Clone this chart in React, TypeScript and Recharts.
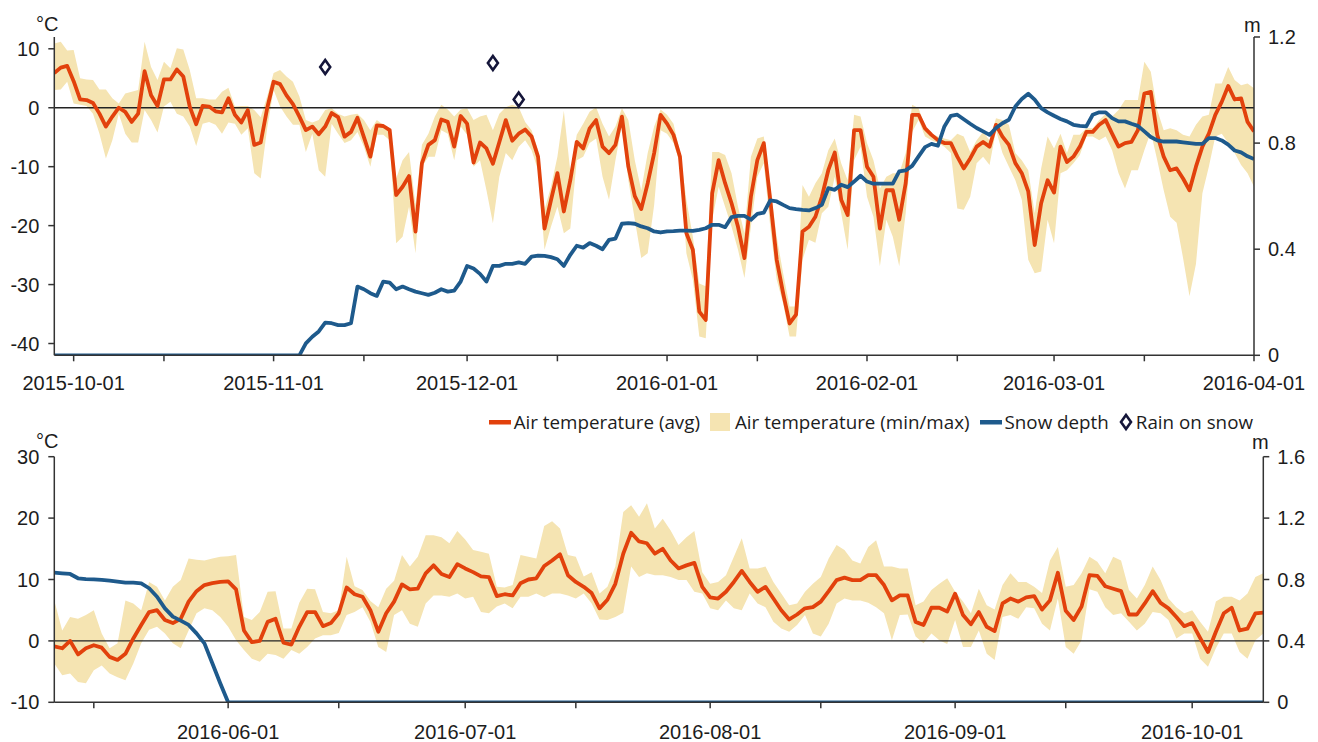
import React from 'react';
import { ComposedChart, Line, Area, XAxis, YAxis, ReferenceLine, Scatter } from 'recharts';

// ---------- data ----------
const DAY = 86400000;

const TOP_START = '2015-09-28';
const TOP_END = '2016-04-01';
const TOP_TICK_DATES = ['2015-10-01', '2015-10-15', '2015-11-01', '2015-11-15', '2015-12-01', '2015-12-15', '2016-01-01', '2016-01-15', '2016-02-01', '2016-02-15', '2016-03-01', '2016-03-15', '2016-04-01'];
const TOP_TEMP_TICKS = [-40, -30, -20, -10, 0, 10];
const TOP_SNOW_TICKS = [0, 0.4, 0.8, 1.2];

const TOP_AVG = [
  5.9, 6.8, 7.1, 4.5, 1.4, 1.3, 0.8, -1.0, -3.2, -1.5,
  0, -0.7, -2.4, -1.0, 6.2, 2.1, 0.3, 4.8, 4.8, 6.5,
  5.3, 0.2, -2.8, 0.3, 0.2, -0.6, -0.8, 1.6, -1.2, -2.5,
  -0.4, -6.3, -5.9, -0.1, 4.4, 4.0, 2.1, 0.6, -1.5, -3.8,
  -3.2, -4.5, -3.2, -0.9, -1.6, -4.9, -4.1, -1.7, -5.0, -8.3,
  -3.0, -3.1, -3.8, -14.8, -13.4, -11.6, -21.0, -9.4, -6.3, -5.5,
  -2.0, -2.4, -6.6, -1.4, -2.7, -9.3, -5.9, -6.9, -9.5, -5.8,
  -2.1, -5.6, -4.4, -3.7, -4.9, -8.3, -20.5, -15.7, -11.1, -17.6,
  -12.3, -5.8, -6.9, -3.5, -2.1, -6.6, -7.7, -6.3, -1.5, -10.0,
  -15.0, -17.2, -12.8, -7.7, -1.2, -2.7, -4.6, -8.3, -21.3, -24.1,
  -34.6, -36.0, -14.5, -8.9, -12.8, -16.2, -20.2, -25.5, -15.1, -8.9,
  -6.0, -15.6, -25.8, -31.5, -36.6, -35.1, -21.0, -20.2, -18.5, -15.1,
  -10.6, -7.6, -15.6, -18.2, -3.8, -3.8, -10.0, -11.7, -20.5, -14.0,
  -14.0, -19.0, -12.8, -1.2, -1.2, -3.5, -4.6, -5.5, -6.0, -6.0,
  -8.3, -10.3, -8.6, -6.6, -5.8, -6.6, -2.9, -4.9, -6.3, -9.4,
  -11.1, -14.2, -23.3, -16.2, -12.3, -14.4, -6.6, -9.2, -8.3, -6.6,
  -4.1, -4.1, -2.9, -2.1, -4.4, -6.6, -6.0, -5.8, -3.8, 2.4,
  2.7, -4.6, -8.3, -10.6, -10.3, -12.0, -14.0, -10.0, -6.6, -4.4,
  -1.2, 1.0, 3.7, 1.4, 1.6, -2.4, -4.0,
];
const TOP_MAX = [
  10.9, 11.2, 9.7, 9.8, 5.0, 4.8, 4.7, 3.1, 3.1, 1.6,
  0.7, 2.4, 2.7, 3.0, 11.2, 6.9, 4.7, 7.8, 6.7, 10.1,
  9.9, 6.4, 1.6, 1.6, 1.4, 1.4, 2.7, 3.4, 0.2, 0.3,
  0.3, -0.4, -1.6, 1.9, 5.9, 6.4, 5.3, 4.4, 1.9, -2.1,
  -2.5, -2.1, -0.4, -0.1, -1.0, -1.5, -1.2, -1.0, -2.1, -3.8,
  -2.1, -2.9, -3.5, -12.0, -8.9, -7.5, -16.5, -6.3, -4.4, -1.5,
  0.5, -0.3, -1.5, -0.3, -0.1, -2.1, -1.5, -1.2, -3.8, -1.0,
  0.1, 0.5, 0.1, -2.4, -3.8, -7.2, -17.3, -13.4, -8.3, -0.5,
  -10.8, -4.6, -2.7, -0.7, 0.1, -2.7, -4.9, -3.2, -0.1, -2.1,
  -8.9, -14.0, -7.7, -3.2, -0.3, -1.2, -2.7, -7.5, -15.6, -21.9,
  -29.8, -30.3, -7.5, -7.5, -8.0, -11.1, -16.8, -21.3, -8.3, -5.2,
  -4.9, -13.4, -21.9, -28.1, -33.7, -33.7, -13.1, -15.1, -12.8, -11.1,
  -7.2, -5.2, -9.4, -12.3, -1.2, -1.5, -6.0, -8.9, -13.7, -11.7,
  -11.1, -11.1, -7.7, 0.5, -0.1, -3.2, -4.4, -4.9, -5.2, -5.5,
  -4.4, -4.9, -7.5, -5.5, -4.1, -5.5, -1.8, -2.1, -2.9, -7.7,
  -8.9, -10.6, -17.9, -10.3, -4.9, -6.9, -4.4, -7.7, -4.6, -4.6,
  -3.5, -3.5, -2.1, -1.0, -1.5, -0.4, 1.3, 1.3, 1.3, 7.8,
  6.1, -0.4, -3.8, -3.5, -3.8, -4.6, -4.9, -2.9, -1.5, -1.2,
  4.1, 4.1, 6.9, 4.7, 3.8, 4.1, 3.3,
];
const TOP_MIN = [
  3.0, 3.1, 4.4, 0.7, 0.5, 0.3, -1.0, -4.4, -8.6, -5.5,
  -1.0, -4.4, -5.9, -5.9, -0.4, -2.1, -4.2, 0.2, 1.0, -1.0,
  -1.5, -3.2, -6.5, -2.7, -2.4, -2.9, -4.4, -2.5, -2.7, -4.6,
  -3.5, -11.1, -12.0, -3.5, 3.0, 0.2, -1.5, -2.9, -2.9, -7.5,
  -4.4, -10.6, -11.7, -2.7, -4.4, -6.0, -5.5, -4.1, -6.6, -10.0,
  -4.6, -4.6, -5.5, -23.0, -21.9, -16.8, -24.7, -10.0, -8.3, -8.3,
  -3.8, -4.4, -8.9, -3.2, -4.6, -10.0, -8.9, -14.0, -19.6, -11.7,
  -7.7, -8.9, -6.6, -5.5, -7.2, -10.6, -24.1, -20.2, -16.8, -21.3,
  -20.5, -8.9, -8.3, -6.0, -5.2, -11.7, -15.6, -8.9, -2.9, -12.3,
  -19.0, -25.5, -24.7, -16.5, -3.8, -4.4, -6.0, -9.4, -24.7, -29.2,
  -38.8, -39.1, -19.0, -13.4, -16.8, -20.2, -24.1, -28.9, -20.2, -11.7,
  -9.4, -20.2, -29.2, -33.2, -38.8, -38.8, -25.8, -22.4, -22.9, -17.9,
  -16.8, -11.7, -17.9, -24.1, -8.9, -6.6, -15.1, -18.5, -26.9, -19.0,
  -21.9, -26.9, -17.9, -4.1, -2.1, -4.9, -5.5, -6.0, -6.6, -7.7,
  -17.1, -17.3, -15.1, -9.4, -8.3, -9.7, -3.8, -7.7, -10.0, -12.3,
  -15.6, -25.8, -28.1, -27.8, -19.0, -23.0, -11.1, -10.6, -9.4, -8.0,
  -4.9, -4.9, -5.5, -4.9, -7.2, -11.1, -13.7, -10.6, -10.6, -7.2,
  -4.1, -8.9, -14.0, -18.5, -19.5, -25.5, -32.0, -26.5, -14.5, -10.0,
  -4.9, -4.4, -6.0, -7.7, -9.7, -11.1, -13.4,
];
const TOP_SNOW = [
  0, 0, 0, 0, 0, 0, 0, 0, 0, 0,
  0, 0, 0, 0, 0, 0, 0, 0, 0, 0,
  0, 0, 0, 0, 0, 0, 0, 0, 0, 0,
  0, 0, 0, 0, 0, 0, 0, 0, 0, 0.045,
  0.07, 0.09, 0.123, 0.121, 0.114, 0.114, 0.121, 0.259, 0.249, 0.234,
  0.224, 0.278, 0.274, 0.249, 0.259, 0.249, 0.240, 0.234, 0.228, 0.236,
  0.249, 0.240, 0.244, 0.278, 0.337, 0.327, 0.307, 0.278, 0.337, 0.337,
  0.345, 0.345, 0.350, 0.345, 0.372, 0.376, 0.375, 0.370, 0.362, 0.337,
  0.379, 0.413, 0.406, 0.423, 0.413, 0.400, 0.435, 0.440, 0.496, 0.498,
  0.496, 0.486, 0.479, 0.467, 0.463, 0.467, 0.468, 0.470, 0.470, 0.469,
  0.473, 0.479, 0.492, 0.492, 0.483, 0.521, 0.526, 0.526, 0.511, 0.533,
  0.538, 0.584, 0.580, 0.567, 0.555, 0.551, 0.548, 0.546, 0.555, 0.567,
  0.630, 0.624, 0.643, 0.634, 0.655, 0.677, 0.655, 0.647, 0.647, 0.647,
  0.647, 0.693, 0.697, 0.714, 0.750, 0.785, 0.797, 0.790, 0.863, 0.903,
  0.907, 0.890, 0.873, 0.857, 0.844, 0.831, 0.857, 0.875, 0.888, 0.938,
  0.966, 0.986, 0.964, 0.932, 0.916, 0.903, 0.891, 0.882, 0.869, 0.865,
  0.863, 0.907, 0.916, 0.916, 0.894, 0.882, 0.882, 0.873, 0.865, 0.844,
  0.823, 0.810, 0.806, 0.806, 0.806, 0.803, 0.800, 0.797, 0.797, 0.819,
  0.819, 0.810, 0.794, 0.772, 0.765, 0.750, 0.740,
];
const RAIN_DATES = ['2015-11-09', '2015-12-05', '2015-12-09'];
const RAIN_VALUES = [6.9, 7.6, 1.4];

const BOT_START = '2016-05-10';
const BOT_END = '2016-10-10';
const BOT_TICK_DATES = ['2016-05-15', '2016-06-01', '2016-06-15', '2016-07-01', '2016-07-15', '2016-08-01', '2016-08-15', '2016-09-01', '2016-09-15', '2016-10-01'];
const BOT_TEMP_TICKS = [-10, 0, 10, 20, 30];
const BOT_SNOW_TICKS = [0, 0.4, 0.8, 1.2, 1.6];

const BOT_AVG = [
  -0.9, -1.2, 0, -2.2, -1.2, -0.7, -1.1, -2.6, -3.1, -2.1,
  0.4, 2.6, 4.7, 5.0, 3.4, 2.9, 3.6, 6.4, 8.1, 9.1,
  9.4, 9.6, 9.7, 8.4, 1.7, -0.2, 0, 3.1, 3.6, -0.3,
  -0.6, 2.3, 4.7, 4.7, 2.4, 2.9, 4.5, 8.7, 7.6, 7.2,
  5.0, 1.5, 4.5, 6.4, 9.2, 8.4, 8.5, 11.0, 12.3, 10.9,
  10.4, 12.5, 11.8, 11.2, 10.5, 10.4, 7.3, 7.6, 7.4, 9.4,
  10.0, 10.2, 12.2, 13.1, 14.1, 10.7, 9.6, 8.8, 7.8, 5.3,
  6.7, 9.3, 14.2, 17.6, 16.2, 15.9, 14.2, 15.0, 13.1, 11.8,
  12.3, 12.7, 8.8, 7.1, 6.9, 8.0, 9.6, 11.4, 9.6, 8.0,
  8.8, 6.9, 5.0, 3.5, 4.3, 5.3, 5.5, 6.4, 8.1, 9.9,
  10.3, 9.9, 9.9, 10.7, 10.7, 9.1, 6.6, 7.4, 7.4, 3.1,
  2.6, 5.4, 5.4, 4.8, 7.7, 4.2, 2.7, 4.7, 2.3, 1.6,
  6.1, 6.9, 6.4, 7.1, 7.3, 5.1, 6.6, 11.1, 4.9, 3.4,
  5.6, 10.7, 10.6, 8.9, 8.5, 8.1, 4.3, 4.3, 6.1, 8.1,
  6.2, 5.3, 3.9, 2.4, 2.9, 0.5, -1.8, 1.5, 4.5, 5.4,
  1.7, 2.0, 4.5, 4.6,
];
const BOT_MAX = [
  6.6, 1.7, 3.9, 3.6, 4.2, 5.0, 1.2, -1.2, -0.4, 6.6,
  6.1, 5.0, 9.6, 8.8, 6.6, 8.8, 9.9, 13.4, 13.2, 13.1,
  13.4, 13.7, 13.8, 14.0, 3.9, 3.4, 4.7, 8.0, 8.1, 2.0,
  2.0, 6.2, 8.5, 8.4, 4.7, 4.5, 5.0, 13.7, 8.9, 8.3,
  6.5, 5.5, 8.5, 9.8, 14.0, 12.1, 13.7, 17.2, 17.2, 16.9,
  15.9, 17.9, 16.5, 14.8, 14.5, 14.2, 8.8, 8.7, 9.1, 14.0,
  13.7, 13.4, 18.7, 19.5, 18.3, 14.0, 13.7, 10.5, 11.2, 7.7,
  8.8, 12.1, 21.0, 22.1, 20.2, 22.4, 18.3, 19.9, 18.0, 15.6,
  16.9, 17.9, 11.2, 9.3, 9.6, 10.7, 13.7, 16.7, 11.8, 11.8,
  12.1, 9.6, 7.7, 5.8, 6.1, 8.0, 9.3, 10.4, 13.4, 15.6,
  14.8, 13.1, 12.6, 15.3, 16.4, 12.1, 12.1, 11.8, 11.8, 5.8,
  6.4, 8.3, 9.3, 10.2, 8.0, 6.4, 4.5, 8.5, 5.8, 5.1,
  9.1, 11.0, 9.6, 9.6, 8.8, 7.8, 13.1, 15.3, 8.8, 9.1,
  11.0, 13.7, 12.9, 11.0, 13.7, 13.1, 8.3, 6.9, 9.1, 12.1,
  9.9, 6.9, 5.5, 4.5, 5.0, 3.1, 1.5, 6.4, 7.2, 7.2,
  6.6, 7.7, 10.4, 11.0,
];
const BOT_MIN = [
  -3.7, -5.6, -5.3, -6.7, -6.9, -4.8, -4.0, -5.3, -5.9, -6.4,
  -3.7, -0.4, 1.8, 2.3, 1.2, -0.4, -1.2, 1.7, 4.5, 5.3,
  5.0, 3.9, 2.3, 0.1, -1.5, -2.9, -3.4, -2.1, -2.3, -2.9,
  -1.5, -2.1, -1.0, 0.4, 0.9, 0.9, 1.3, 4.2, 4.7, 5.5,
  3.1, -1.0, -1.8, 4.2, 5.0, 2.8, 2.3, 6.1, 7.4, 7.4,
  7.2, 7.7, 6.9, 7.2, 4.7, 4.5, 5.6, 6.1, 5.3, 7.2,
  7.2, 7.7, 7.1, 7.7, 7.7, 7.4, 6.9, 7.7, 6.1, 3.5,
  3.4, 3.9, 4.6, 12.1, 10.4, 11.0, 10.7, 10.7, 10.4, 9.9,
  9.9, 8.0, 7.7, 5.3, 5.0, 6.6, 5.3, 5.0, 7.7, 6.1,
  5.5, 3.1, 2.0, 1.5, 2.6, 4.2, 1.2, 0.7, 2.8, 6.1,
  6.9, 6.6, 6.6, 6.2, 5.5, 4.5, 0.1, 4.2, 4.3, 0.7,
  -0.4, 1.2, 0.1, -0.5, 3.4, -1.0, -1.0, 1.7, -2.1, -3.1,
  3.9, 4.2, 3.6, 5.5, 5.3, 2.8, 1.7, 6.9, -1.0, -2.1,
  0.1, 8.4, 8.0, 5.5, 4.2, 4.5, 3.1, 1.7, 2.8, 4.7,
  4.5, 3.4, 0.4, 1.2, 1.2, -2.9, -4.2, -1.2, 1.2, 1.2,
  -1.8, -2.9, 0.1, 1.2,
];
const BOT_SNOW = [
  0.845, 0.840, 0.836, 0.808, 0.803, 0.801, 0.797, 0.793, 0.786, 0.780,
  0.780, 0.775, 0.743, 0.688, 0.612, 0.558, 0.532, 0.504, 0.449, 0.384,
  0.254, 0.124, 0, 0, 0, 0, 0, 0, 0, 0,
  0, 0, 0, 0, 0, 0, 0, 0, 0, 0,
  0, 0, 0, 0, 0, 0, 0, 0, 0, 0,
  0, 0, 0, 0, 0, 0, 0, 0, 0, 0,
  0, 0, 0, 0, 0, 0, 0, 0, 0, 0,
  0, 0, 0, 0, 0, 0, 0, 0, 0, 0,
  0, 0, 0, 0, 0, 0, 0, 0, 0, 0,
  0, 0, 0, 0, 0, 0, 0, 0, 0, 0,
  0, 0, 0, 0, 0, 0, 0, 0, 0, 0,
  0, 0, 0, 0, 0, 0, 0, 0, 0, 0,
  0, 0, 0, 0, 0, 0, 0, 0, 0, 0,
  0, 0, 0, 0, 0, 0, 0, 0, 0, 0,
  0, 0, 0, 0, 0, 0, 0, 0, 0, 0,
  0, 0, 0, 0,
];

const LEGEND_ITEMS = [
  { label: 'Air temperature (avg)', kind: 'line' },
  { label: 'Air temperature (min/max)', kind: 'band' },
  { label: 'Snow depth', kind: 'snow' },
  { label: 'Rain on snow', kind: 'diamond' },
];

// ---------- styling ----------
const RED = '#E2410C';
const BAND = '#F5E4B2';
const BLUE = '#1E5A8C';
const NAVY = '#15163A';
const AXIS = '#333333';
const TEXT = '#1c1c1c';
const TICK_FONT = '"Liberation Sans", Arial, Helvetica, sans-serif';
const LEGEND_FONT = '"Open Sans", "Noto Sans", sans-serif';

const ms = (s: string) => Date.parse(s + 'T00:00:00Z');
const fmtDate = (t: number) => {
  const s = new Date(t).toISOString().slice(0, 10);
  return s.endsWith('-01') ? s : '';
};

const build = (start: string, avg: number[], mn: number[], mx: number[], snow: number[]) =>
  avg.map((v, i) => ({ t: ms(start) + i * DAY, avg: v, range: [mn[i], mx[i]], snow: snow[i] }));

const topData = build(TOP_START, TOP_AVG, TOP_MIN, TOP_MAX, TOP_SNOW);
const botData = build(BOT_START, BOT_AVG, BOT_MIN, BOT_MAX, BOT_SNOW);
const rainData = RAIN_DATES.map((d, i) => ({ t: ms(d), v: RAIN_VALUES[i] }));

const Diamond = (p: any) => {
  const { cx, cy } = p;
  if (cx == null || cy == null) return null;
  return (
    <path
      d={`M${cx},${cy - 7} L${cx + 5},${cy} L${cx},${cy + 7} L${cx - 5},${cy} Z`}
      fill="#ffffff"
      stroke={NAVY}
      strokeWidth={2.6}
      strokeLinejoin="miter"
    />
  );
};

const tickStyle = { fill: TEXT, fontSize: 20, fontFamily: TICK_FONT };
const axisLine = { stroke: AXIS, strokeWidth: 1.5 };

type PanelProps = {
  data: any[];
  width: number;
  height: number;
  top: number;
  plotTop: number;
  plotBottom: number;
  plotLeft: number;
  plotRight: number;
  xDomain: [number, number];
  xTicks: number[];
  tempDomain: [number, number];
  tempTicks: number[];
  snowDomain: [number, number];
  snowTicks: number[];
  xTickMargin: number;
  rain?: { t: number; v: number }[];
};

const Panel = (p: PanelProps) => {
  const margin = { top: p.plotTop, right: 0, left: 0, bottom: 0 };
  const xHeight = p.height - p.plotBottom;
  return (
    <div style={{ position: 'absolute', left: 0, top: p.top, width: p.width, height: p.height }}>
      <ComposedChart width={p.width} height={p.height} data={p.data} margin={margin}>
        <XAxis
          dataKey="t"
          type="number"
          domain={p.xDomain}
          ticks={p.xTicks}
          interval={0}
          allowDataOverflow
          tickFormatter={fmtDate}
          height={xHeight}
          tickSize={6}
          tickMargin={p.xTickMargin}
          tick={tickStyle}
          axisLine={axisLine}
          tickLine={axisLine}
        />
        <YAxis
          yAxisId="l"
          domain={p.tempDomain}
          ticks={p.tempTicks}
          interval={0}
          allowDataOverflow
          width={p.plotLeft}
          tickSize={6}
          tickMargin={9}
          tick={tickStyle}
          axisLine={axisLine}
          tickLine={axisLine}
        />
        <YAxis
          yAxisId="r"
          orientation="right"
          domain={p.snowDomain}
          ticks={p.snowTicks}
          interval={0}
          allowDataOverflow
          width={p.width - p.plotRight}
          tickSize={6}
          tickMargin={8}
          tick={tickStyle}
          tickFormatter={(v: number) => String(v)}
          axisLine={axisLine}
          tickLine={axisLine}
        />
        <Area
          yAxisId="l"
          dataKey="range"
          type="linear"
          stroke="none"
          fill={BAND}
          fillOpacity={1}
          isAnimationActive={false}
          activeDot={false}
        />
        <ReferenceLine yAxisId="l" y={0} stroke="#222222" strokeWidth={1.4} />
        <Line
          yAxisId="l"
          dataKey="avg"
          type="linear"
          stroke={RED}
          strokeWidth={3.8}
          dot={false}
          activeDot={false}
          strokeLinejoin="round"
          isAnimationActive={false}
        />
        <Line
          yAxisId="r"
          dataKey="snow"
          type="linear"
          stroke={BLUE}
          strokeWidth={3.8}
          dot={false}
          activeDot={false}
          strokeLinejoin="round"
          isAnimationActive={false}
        />
        {p.rain ? (
          <Scatter yAxisId="l" data={p.rain} dataKey="v" shape={Diamond} isAnimationActive={false} />
        ) : null}
      </ComposedChart>
    </div>
  );
};

const unitStyle: React.CSSProperties = {
  position: 'absolute',
  fontFamily: TICK_FONT,
  fontSize: 20,
  lineHeight: '20px',
  color: TEXT,
  whiteSpace: 'nowrap',
};

const LegendMarker = ({ kind }: { kind: string }) => {
  if (kind === 'line') return <svg width={22} height={20}><rect x={0} y={8} width={22} height={4.5} fill={RED} /></svg>;
  if (kind === 'snow') return <svg width={22} height={20}><rect x={0} y={8} width={22} height={4.5} fill={BLUE} /></svg>;
  if (kind === 'band') return <svg width={20} height={20}><rect x={0} y={1} width={20} height={18} fill={BAND} /></svg>;
  return (
    <svg width={14} height={20}>
      <path d="M7,3 L12,10 L7,17 L2,10 Z" fill="#fff" stroke={NAVY} strokeWidth={2.6} />
    </svg>
  );
};

export default function App() {
  return (
    <div style={{ position: 'absolute', left: 0, top: 0, width: 1318, height: 742, background: '#ffffff', overflow: 'hidden' }}>
      <Panel
        data={topData}
        width={1318}
        height={400}
        top={0}
        plotTop={37}
        plotBottom={355.3}
        plotLeft={54.3}
        plotRight={1254}
        xDomain={[ms(TOP_START), ms(TOP_END)]}
        xTicks={TOP_TICK_DATES.map(ms)}
        tempDomain={[-42, 12]}
        tempTicks={TOP_TEMP_TICKS}
        snowDomain={[0, 1.2]}
        snowTicks={TOP_SNOW_TICKS}
        xTickMargin={14.5}
        rain={rainData}
      />
      <Panel
        data={botData}
        width={1318}
        height={342}
        top={400}
        plotTop={56.7}
        plotBottom={302.3}
        plotLeft={54.3}
        plotRight={1263.3}
        xDomain={[ms(BOT_START), ms(BOT_END)]}
        xTicks={BOT_TICK_DATES.map(ms)}
        tempDomain={[-10, 30]}
        tempTicks={BOT_TEMP_TICKS}
        snowDomain={[0, 1.6]}
        snowTicks={BOT_SNOW_TICKS}
        xTickMargin={16.5}
      />
      <div style={{ ...unitStyle, left: 36, top: 14 }}>°C</div>
      <div style={{ ...unitStyle, left: 1244, top: 15 }}>m</div>
      <div style={{ ...unitStyle, left: 36, top: 431 }}>°C</div>
      <div style={{ ...unitStyle, left: 1252, top: 432 }}>m</div>
      <div
        style={{
          position: 'absolute',
          right: 1318 - 1253,
          top: 411,
          height: 22,
          display: 'flex',
          alignItems: 'center',
          fontFamily: LEGEND_FONT,
          fontSize: 18.8,
          color: TEXT,
          whiteSpace: 'nowrap',
        }}
      >
        {LEGEND_ITEMS.map((it, i) => (
          <div key={it.label} style={{ display: 'flex', alignItems: 'center', marginLeft: i === 0 ? 0 : 10 }}>
            <LegendMarker kind={it.kind} />
            <span style={{ marginLeft: it.kind === 'band' ? 5 : 3, lineHeight: '22px' }}>{it.label}</span>
          </div>
        ))}
      </div>
    </div>
  );
}
